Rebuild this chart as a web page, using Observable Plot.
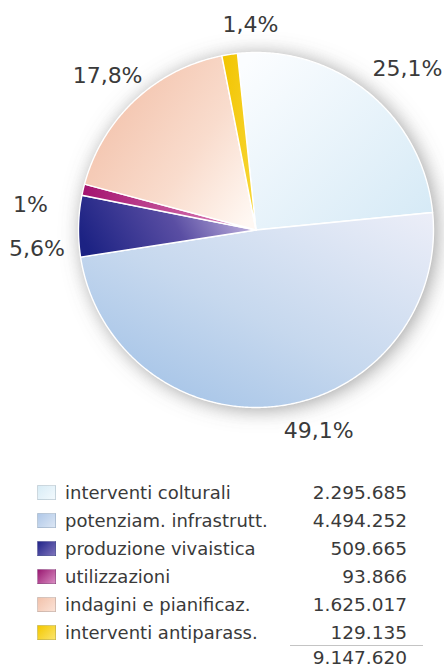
<!DOCTYPE html>
<html>
<head>
<meta charset="utf-8">
<script src="https://cdn.jsdelivr.net/npm/d3@7"></script>
<script src="https://cdn.jsdelivr.net/npm/@observablehq/plot@0.6"></script>
<style>
  body { margin: 0; background: #fff; }
  #wrap { position: relative; width: 444px; height: 668px; overflow: hidden; font-family: "DejaVu Sans", sans-serif; color: #3a3a3a; }
  #chart { position: absolute; left: 0; top: 0; }
  .row { position: absolute; left: 0; width: 444px; height: 22px; line-height: 22px; font-size: 18px; }
  .sw { position: absolute; left: 37px; top: 3px; width: 19px; height: 15px; box-sizing: border-box; border: 1px solid rgba(150,160,170,0.35); }
  .lab { position: absolute; left: 65px; top: 0; white-space: nowrap; }
  .val { position: absolute; right: 37px; top: 0; white-space: nowrap; font-size: 18.5px; }
  #rule { position: absolute; left: 290px; width: 133px; top: 645px; height: 0; border-top: 1px solid #c4c4c4; }
</style>
</head>
<body>
<div id="wrap"><div id="chart"></div><div id="legend"></div></div>
<script>
// ---- data ----
const categories = ["interventi colturali", "potenziam. infrastrutt.", "produzione vivaistica", "utilizzazioni", "indagini e pianificaz.", "interventi antiparass."];
const values = [2295685, 4494252, 509665, 93866, 1625017, 129135];
const percentLabels = ["25,1%", "49,1%", "5,6%", "1%", "17,8%", "1,4%"];
const valueLabels = ["2.295.685", "4.494.252", "509.665", "93.866", "1.625.017", "129.135"];
const totalLabel = "9.147.620";

// ---- styles ----
const gradStops = [
  [["0%", "#fbfdff"], ["100%", "#d6eaf6"]],
  [["0%", "#eceef8"], ["55%", "#c6d8ee"], ["100%", "#9fc0e6"]],
  [["0%", "#1c2283"], ["55%", "#5a4ea3"], ["100%", "#c6b8e2"]],
  [["0%", "#a3126e"], ["100%", "#e08ac0"]],
  [["0%", "#f2bea6"], ["60%", "#f9dccd"], ["100%", "#fff8f3"]],
  [["0%", "#f2c400"], ["100%", "#f8d83a"]]
];
const gradDir = [
  [0.1, 0.0, 1, 0.9],
  [1, 0, 0.1, 1],
  [0, 0.6, 1, 0.4],
  [0, 0.5, 1, 0.5],
  [0, 0.2, 1, 0.9],
  [0, 0, 1, 1]
];
const swatchCss = [
  "linear-gradient(135deg,#d8ecf6,#f2f9fd)",
  "linear-gradient(135deg,#b0c8e8,#dbe6f4)",
  "linear-gradient(135deg,#23268a,#7d72bb)",
  "linear-gradient(135deg,#9a1a72,#d88ac0)",
  "linear-gradient(135deg,#f2c2ab,#fbe2d6)",
  "linear-gradient(135deg,#f4c800,#fbe46a)"
];
const labelNudge = [[17, 4], [36, -10], [-6, 24], [-18, 23], [-3, 2], [26, 6]];

// ---- geometry (layout) ----
const W = 444, H = 470, cx = 255.5, cy = 229.5, R = 177.5, startDeg = -6, labelR = 1.2;
const total = d3.sum(values);
let acc = 0;
const slices = values.map((v, i) => {
  const a0 = startDeg + acc / total * 360;
  acc += v;
  const a1 = startDeg + acc / total * 360;
  return {i, a0, a1, mid: (a0 + a1) / 2, label: percentLabels[i]};
});
const rad = d => d * Math.PI / 180;
function arcPoints(a0, a1, withCenter) {
  const pts = withCenter ? [{x: 0, y: 0}] : [];
  const n = Math.max(2, Math.ceil((a1 - a0) / 0.5));
  for (let k = 0; k <= n; k++) {
    const a = rad(a0 + (a1 - a0) * k / n);
    pts.push({x: Math.sin(a), y: Math.cos(a)});
  }
  if (withCenter) pts.push({x: 0, y: 0});
  return pts;
}

const marks = [];
// shadow disc (full pie outline) — first line mark
marks.push(Plot.line(arcPoints(slices[0].a0, slices[slices.length - 1].a1, false), {x: "x", y: "y", fill: "#ffffff", stroke: "none"}));
slices.forEach(s => {
  marks.push(Plot.line(arcPoints(s.a0, s.a1, true), {x: "x", y: "y", fill: `url(#g${s.i})`, stroke: "#ffffff", strokeWidth: 1.4, strokeLinejoin: "round"}));
});
slices.forEach(s => {
  marks.push(Plot.text([s], {
    x: d => labelR * Math.sin(rad(d.mid)),
    y: d => labelR * Math.cos(rad(d.mid)),
    text: "label", fontSize: 22, fill: "#3a3a3a",
    dx: labelNudge[s.i][0], dy: labelNudge[s.i][1]
  }));
});

const plot = Plot.plot({
  width: W, height: H, margin: 0,
  style: {fontFamily: "DejaVu Sans, sans-serif", background: "transparent"},
  x: {domain: [-cx / R, (W - cx) / R], axis: null},
  y: {domain: [(cy - H) / R, cy / R], axis: null},
  marks
});

const svg = d3.select(plot);
const defs = svg.insert("defs", ":first-child");
const f = defs.append("filter").attr("id", "shadow").attr("x", "-30%").attr("y", "-30%").attr("width", "160%").attr("height", "160%");
f.append("feGaussianBlur").attr("in", "SourceAlpha").attr("stdDeviation", 10).attr("result", "blur");
f.append("feOffset").attr("in", "blur").attr("dx", 3).attr("dy", 2).attr("result", "off");
f.append("feFlood").attr("flood-color", "#6a6a6a").attr("flood-opacity", 0.65).attr("result", "col");
f.append("feComposite").attr("in", "col").attr("in2", "off").attr("operator", "in");
gradStops.forEach((stops, i) => {
  const g = defs.append("linearGradient").attr("id", `g${i}`)
    .attr("x1", gradDir[i][0]).attr("y1", gradDir[i][1]).attr("x2", gradDir[i][2]).attr("y2", gradDir[i][3]);
  stops.forEach(([o, c]) => g.append("stop").attr("offset", o).attr("stop-color", c));
});
svg.select('g[aria-label="line"]').attr("filter", "url(#shadow)");
document.getElementById("chart").appendChild(plot);

// ---- legend ----
const legend = document.getElementById("legend");
categories.forEach((c, i) => {
  const row = document.createElement("div");
  row.className = "row";
  row.style.top = (482 + 28 * i) + "px";
  row.innerHTML = `<div class="sw" style="background:${swatchCss[i]}"></div><div class="lab"></div><div class="val"></div>`;
  row.querySelector(".lab").textContent = c;
  row.querySelector(".val").textContent = valueLabels[i];
  legend.appendChild(row);
});
const rule = document.createElement("div");
rule.id = "rule";
legend.appendChild(rule);
const tot = document.createElement("div");
tot.className = "row";
tot.style.top = "647px";
tot.innerHTML = `<div class="val"></div>`;
tot.querySelector(".val").textContent = totalLabel;
legend.appendChild(tot);
</script>
</body>
</html>
